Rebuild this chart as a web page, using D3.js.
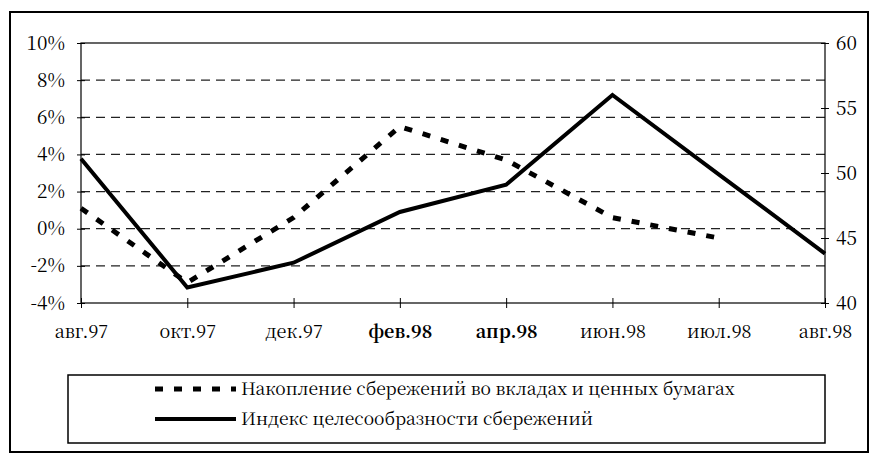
<!DOCTYPE html>
<html>
<head>
<meta charset="utf-8">
<script src="https://cdn.jsdelivr.net/npm/d3@7"></script>
<style>
  body { margin: 0; background: #fff; }
  svg { display: block; }
</style>
</head>
<body>
<svg id="chart" width="871" height="457"></svg>
<script>
// categories (months)
const months = ["авг.97", "окт.97", "дек.97", "фев.98", "апр.98", "июн.98", "июл.98", "авг.98"];
const boldMonths = ["фев.98", "апр.98"];

// Накопление сбережений во вкладах и ценных бумагах, % (left axis)
const savings = [0.011, -0.029, 0.006, 0.055, 0.037, 0.006, -0.005, null];
// Индекс целесообразности сбережений (right axis)
const indexVals = [51.1, 41.2, 43.1, 47.0, 49.1, 56.0, 49.9, 43.8];

const leftTicks = [-0.04, -0.02, 0, 0.02, 0.04, 0.06, 0.08, 0.10];
const rightTicks = [40, 45, 50, 55, 60];

const seriesNames = [
    "Накопление сбережений во вкладах и ценных бумагах",
    "Индекс целесообразности сбережений"
];

// the serif CJK face is the one here that has Cyrillic and digits in a serif style
const FONT = "'Noto Serif CJK SC', 'Noto Serif', 'Liberation Serif', serif";

const svg = d3.select("#chart");
const plot = { left: 81, right: 825, top: 43, bottom: 303 };

const x = d3.scalePoint().domain(months).range([plot.left, plot.right]).padding(0);
const yL = d3.scaleLinear().domain([-0.04, 0.10]).range([plot.bottom, plot.top]);
const yR = d3.scaleLinear().domain([40, 60]).range([plot.bottom, plot.top]);

// outer frame
svg.append("rect")
    .attr("x", 10).attr("y", 12)
    .attr("width", 858).attr("height", 440)
    .attr("fill", "none").attr("stroke", "#000").attr("stroke-width", 2);

// gridlines (left axis, dashed)
svg.append("g")
    .selectAll("line")
    .data(leftTicks.filter(d => d > -0.04 && d < 0.10))
    .join("line")
    .attr("x1", plot.left).attr("x2", plot.right)
    .attr("y1", d => yL(d)).attr("y2", d => yL(d))
    .attr("stroke", "#222").attr("stroke-width", 1.2)
    .attr("stroke-dasharray", "9,6");

// plot border
svg.append("rect")
    .attr("x", plot.left).attr("y", plot.top)
    .attr("width", plot.right - plot.left).attr("height", plot.bottom - plot.top)
    .attr("fill", "none").attr("stroke", "#000").attr("stroke-width", 1.2);

// left axis
const gL = svg.append("g")
    .attr("transform", `translate(${plot.left},0)`)
    .call(d3.axisLeft(yL).tickValues(leftTicks)
        .tickFormat(d => Math.round(d * 100) + "%")
        .tickSize(4).tickPadding(12));
gL.select(".domain").remove();
gL.selectAll(".tick line").attr("x1", -4).attr("x2", 4).attr("stroke", "#000");

// right axis
const gR = svg.append("g")
    .attr("transform", `translate(${plot.right},0)`)
    .call(d3.axisRight(yR).tickValues(rightTicks).tickSize(4).tickPadding(7));
gR.select(".domain").remove();
gR.selectAll(".tick line").attr("x1", -4).attr("x2", 4).attr("stroke", "#000");

// bottom axis
const gX = svg.append("g")
    .attr("transform", `translate(0,${plot.bottom})`)
    .call(d3.axisBottom(x).tickSize(4).tickPadding(18));
gX.select(".domain").remove();
gX.selectAll(".tick line").attr("y1", -5).attr("y2", 5).attr("stroke", "#000");
gX.selectAll("text")
    .style("font-weight", d => boldMonths.includes(d) ? "bold" : "normal");

[gL, gR, gX].forEach(g => {
    g.attr("font-family", null).attr("font-size", null);
    g.selectAll("text")
        .style("font-family", FONT)
        .attr("fill", "#000");
});
gL.selectAll("text").style("font-size", "19px");
gR.selectAll("text").style("font-size", "19px");
gX.selectAll("text").style("font-size", "18px");

// series lines
const lineL = d3.line()
    .defined(d => d.v !== null)
    .x(d => x(d.m)).y(d => yL(d.v));
const lineR = d3.line()
    .x(d => x(d.m)).y(d => yR(d.v));

svg.append("path")
    .datum(months.map((m, i) => ({ m, v: savings[i] })))
    .attr("d", lineL)
    .attr("fill", "none").attr("stroke", "#000")
    .attr("stroke-width", 5).attr("stroke-dasharray", "8,11");

svg.append("path")
    .datum(months.map((m, i) => ({ m, v: indexVals[i] })))
    .attr("d", lineR)
    .attr("fill", "none").attr("stroke", "#000")
    .attr("stroke-width", 4).attr("stroke-linejoin", "miter");

// legend
const legend = svg.append("g");
legend.append("rect")
    .attr("x", 68).attr("y", 375).attr("width", 757).attr("height", 68)
    .attr("fill", "#fff").attr("stroke", "#000").attr("stroke-width", 1.5);

const legendRows = [
    { name: seriesNames[0], dash: "8,11", width: 5 },
    { name: seriesNames[1], dash: null, width: 4 }
];
legendRows.forEach((r, i) => {
    const cy = 389 + i * 30;
    legend.append("line")
        .attr("x1", 155).attr("x2", 236).attr("y1", cy).attr("y2", cy)
        .attr("stroke", "#000").attr("stroke-width", r.width)
        .attr("stroke-dasharray", r.dash);
    legend.append("text")
        .attr("x", 241).attr("y", cy + 6)
        .style("font-family", FONT)
        .style("font-size", "17.5px")
        .text(r.name);
});
</script>
</body>
</html>
